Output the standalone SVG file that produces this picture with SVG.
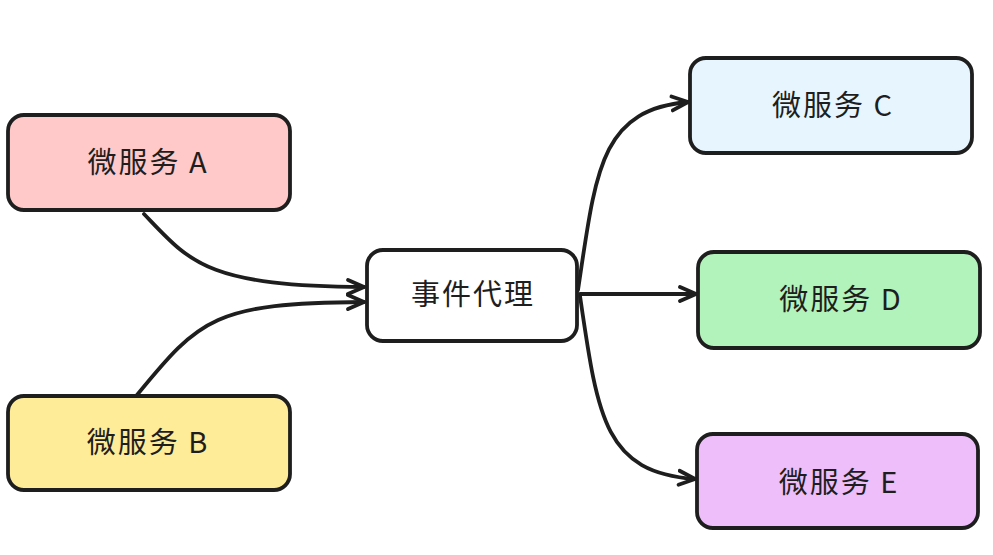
<svg xmlns="http://www.w3.org/2000/svg" width="993" height="555" viewBox="0 0 993 555">
<defs>
<style>
.box{stroke:#1e1e1e;stroke-width:3.8;}
.lbl{font-family:"Noto Sans CJK SC","Noto Sans",sans-serif;font-size:29px;letter-spacing:2px;fill:#1e1e1e;text-anchor:middle;dominant-baseline:central;}
.conn{fill:none;stroke:#1e1e1e;stroke-width:3.8;stroke-linecap:round;stroke-linejoin:round;}
</style>
<marker id="ah" viewBox="0 0 20 20" refX="18" refY="10" markerWidth="20" markerHeight="20" markerUnits="userSpaceOnUse" orient="auto">
<path d="M2,3 L18,10 L2,17" fill="none" stroke="#1e1e1e" stroke-width="3.8" stroke-linecap="round" stroke-linejoin="round"/>
</marker>
</defs>
<rect width="993" height="555" fill="#ffffff"/>
<g id="connectors">
<path class="conn" d="M144,214 C190,262 205,286 364,287" marker-end="url(#ah)"/>
<path class="conn" d="M137,395 C200,318 215,303 364,302" marker-end="url(#ah)"/>
<path class="conn" d="M578,290 C596,170 600,110 688,102" marker-end="url(#ah)"/>
<path class="conn" d="M580,294 L696,294" marker-end="url(#ah)"/>
<path class="conn" d="M580,296 C598,420 605,472 695,479" marker-end="url(#ah)"/>
</g>
<g id="nodeA">
<rect class="box" x="8" y="115" width="282" height="95" rx="16" fill="#ffc9c9"/>
<text class="lbl" x="148" y="160">微服务 A</text>
</g>
<g id="nodeB">
<rect class="box" x="8" y="396" width="282" height="94" rx="16" fill="#ffec99"/>
<text class="lbl" x="148" y="440">微服务 B</text>
</g>
<g id="broker">
<rect class="box" x="367" y="250" width="210" height="91" rx="16" fill="#ffffff"/>
<text class="lbl" x="473" y="292">事件代理</text>
</g>
<g id="nodeC">
<rect class="box" x="690" y="58" width="282" height="95" rx="16" fill="#e7f5ff"/>
<text class="lbl" x="833" y="103">微服务 C</text>
</g>
<g id="nodeD">
<rect class="box" x="698" y="252" width="282" height="96" rx="16" fill="#b2f2bb"/>
<text class="lbl" x="841" y="297">微服务 D</text>
</g>
<g id="nodeE">
<rect class="box" x="697" y="434" width="281" height="94" rx="16" fill="#eebefa"/>
<text class="lbl" x="839" y="480">微服务 E</text>
</g>
</svg>
